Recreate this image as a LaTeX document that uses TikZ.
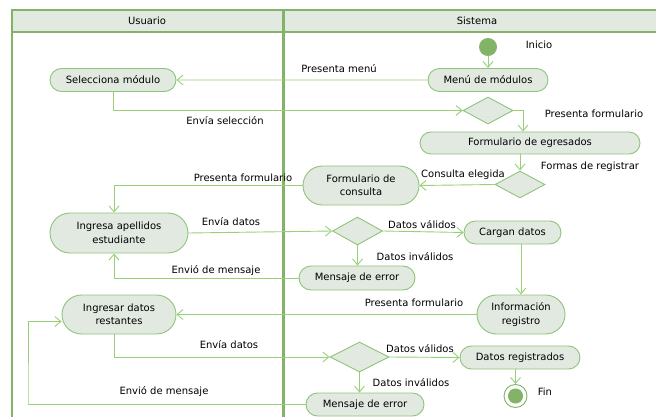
\documentclass[tikz,border=0pt]{standalone}
\usepackage{fontspec}
\setmainfont{DejaVu Sans}
\usepackage{tikz}
\usetikzlibrary{shapes.misc,shapes.geometric,arrows.meta,calc}
\definecolor{lanegreen}{HTML}{82B366}
\definecolor{linegreen}{HTML}{97D077}
\definecolor{boxgreen}{HTML}{8FC47A}
\definecolor{boxfill}{HTML}{E1E9E1}
\tikzset{
    act/.style = {rounded rectangle, draw=boxgreen, fill=boxfill, line width=0.9pt, align=center, inner sep=2pt, minimum height=23pt},
    decision/.style = {diamond, draw=boxgreen, fill=boxfill, line width=0.9pt, inner sep=0pt, minimum width=50pt, minimum height=27pt},
    flow/.style = {draw=linegreen, line width=0.9pt, -{Straight Barb[length=6pt,width=10pt]}},
    lbl/.style = {inner sep=0pt},
    lane/.style = {draw=lanegreen, line width=2pt}
}
\begin{document}
\begin{tikzpicture}[x=1pt, y=-1pt, font=\fontsize{10}{13.5}\selectfont]
    \useasboundingbox (0,0) rectangle (656,417);
    % SWIMLANES
    \fill[boxfill] (12,10) rectangle (656,32);
    \draw[lane] (656,10) -- (12,10) -- (12,417);
    \draw[lane] (12,32) -- (656,32);
    \draw[lane, line width=3pt] (283,10) -- (283,417);
    \node[lbl] (usuario) at (147,21) {Usuario};
    \node[lbl] (sistema) at (477,21) {Sistema};
    % ACTIVITIES
    \node[circle, fill=lanegreen, minimum size=18pt, inner sep=0pt] (inicio) at (488,47) {};
    \node[act, minimum width=124pt] (menu) at (488,80) {Menú de módulos};
    \node[act, minimum width=130pt] (selmod) at (113,80) {Selecciona módulo};
    \node[decision] (dec1) at (488,110.5) {};
    \node[act, minimum width=224pt, minimum height=22pt] (formegr) at (530,143) {Formulario de egresados};
    \node[decision] (dec2) at (520,184.5) {};
    \node[act, minimum width=120pt, minimum height=39pt] (formcons) at (361,185.5) {Formulario de\\consulta};
    \node[act, minimum width=142pt, minimum height=40pt] (ingape) at (119,233) {Ingresa apellidos\\estudiante};
    \node[decision, minimum height=28pt] (dec3) at (357.5,231) {};
    \node[act, minimum width=101pt] (cargan) at (512.5,232.5) {Cargan datos};
    \node[act, minimum width=120pt, minimum height=24pt] (err1) at (357,278) {Mensaje de error};
    \node[act, minimum width=92pt, minimum height=39pt] (info) at (521,314.5) {Información\\registro};
    \node[act, minimum width=118pt, minimum height=39pt] (ingdat) at (119,314.5) {Ingresar datos\\restantes};
    \node[decision, minimum width=59pt, minimum height=30pt] (dec4) at (359.5,357) {};
    \node[act, minimum width=124pt] (datreg) at (520,357.5) {Datos registrados};
    \node[act, minimum width=122pt] (err2) at (365,404.5) {Mensaje de error};
    \node[circle, draw=lanegreen, fill=white, line width=0.9pt, minimum size=23pt, inner sep=0pt] (fin) at (515.5,396) {};
    \node[circle, fill=lanegreen, minimum size=15pt, inner sep=0pt] (finin) at (fin) {};
    \coordinate (retx) at (28,404);
    % CONNECTORS
    \draw[flow] (inicio) -- (menu);
    \draw[flow] (menu) -- (selmod);
    \draw[flow] (selmod.south) |- (dec1.west);
    \draw[flow] (dec1.east) -| ([xshift=-7pt]formegr.north);
    \draw[flow] (dec2 |- formegr.south) -- (dec2.north);
    \draw[flow] (dec2.west) -- (formcons.east);
    \draw[flow] (formcons.west) -| ([xshift=-5pt]ingape.north);
    \draw[flow] (ingape.east) -- (dec3.west);
    \draw[flow] (dec3.east) -- (cargan.west);
    \draw[flow] (dec3.south) -- (dec3.south |- err1.north);
    \draw[flow] (err1.west) -| ([xshift=-5pt]ingape.south);
    \draw[flow] (info.north |- cargan.south) -- (info.north);
    \draw[flow] (info.west) -- (ingdat.east);
    \draw[flow] ([xshift=-5pt]ingdat.south) |- (dec4.west);
    \draw[flow] (dec4.east) -- (datreg.west);
    \draw[flow] (dec4.south) -- (dec4.south |- err2.north);
    \draw[flow] (err2.west) -| (retx) |- ([yshift=-7pt]ingdat.west);
    \draw[flow] (fin |- datreg.south) -- (fin.north);
    % LABELS
    \node[lbl] (linicio) at (539,45) {Inicio};
    \node[lbl] (lfin) at (545,392) {Fin};
    \node[lbl] (lpresmenu) at (339,69) {Presenta menú};
    \node[lbl] (lenvsel) at (225,121) {Envía selección};
    \node[lbl] (lpresform1) at (594,114) {Presenta formulario};
    \node[lbl] (lformas) at (590,167) {Formas de registrar};
    \node[lbl] (lconsulta) at (463,175) {Consulta elegida};
    \node[lbl] (lpresform2) at (243,178) {Presenta formulario};
    \node[lbl] (lenvdat1) at (231,222) {Envía datos};
    \node[lbl] (lvalid1) at (422,225) {Datos válidos};
    \node[lbl] (linval1) at (415,257) {Datos inválidos};
    \node[lbl] (lenvmen1) at (216,271) {Envió de mensaje};
    \node[lbl] (lpresform3) at (414,303) {Presenta formulario};
    \node[lbl] (lenvdat2) at (229,345) {Envía datos};
    \node[lbl] (lvalid2) at (420,349) {Datos válidos};
    \node[lbl] (linval2) at (411,383) {Datos inválidos};
    \node[lbl] (lenvmen2) at (164,392) {Envió de mensaje};
\end{tikzpicture}
\end{document}
